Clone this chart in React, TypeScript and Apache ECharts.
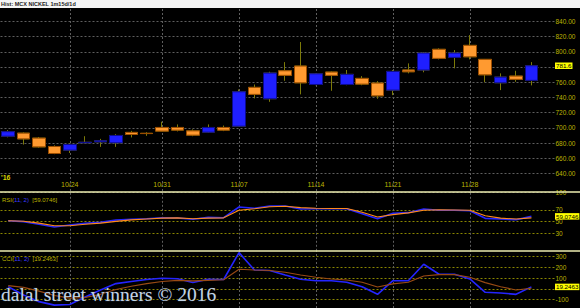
import React, { useEffect, useRef } from 'react';
import * as echarts from 'echarts';

const DATES = [
  '10/18', '10/19', '10/20', '10/21', '10/24', '10/25', '10/26', '10/27', '10/28', '10/30',
  '10/31', '11/01', '11/02', '11/03', '11/04', '11/07', '11/08', '11/09', '11/10', '11/11',
  '11/14', '11/15', '11/16', '11/17', '11/18', '11/21', '11/22', '11/23', '11/24', '11/25',
  '11/28', '11/29', '11/30', '12/01', '12/02',
];
const OPEN = [
  689, 693, 686.5, 675.5, 670.7, 680.3, 681.6, 680.3, 694, 692.8,
  700.5, 700.5, 696, 694.3, 700.5, 702.2, 753.2, 738.2, 775, 781.2,
  757, 773.3, 757, 765, 758.8, 749.6, 776, 776, 803.2, 792.6,
  808.4, 790, 759.2, 768, 762.4,
];
const CLOSE = [
  695, 685.5, 675, 666.3, 678.2, 681, 683, 690, 691.3, 692.5,
  695.7, 697, 690.4, 700.5, 697, 747.4, 744, 772, 769, 759.2,
  771, 769, 770.3, 757.5, 742.1, 774.2, 773.7, 798.3, 791.3, 798.3,
  793.4, 769.7, 766.7, 763.7, 781.6,
];
const LOW = [
  687.5, 678, 674, 665.4, 667, 680, 675, 675, 687.4, 689.5,
  695.5, 695.3, 689, 693.4, 695.7, 701.5, 738.7, 734.2, 761.8, 744,
  756, 748.7, 756, 756, 738.2, 743, 771.6, 773, 790, 778.2,
  790, 760, 749.6, 760.5, 755.8,
];
const HIGH = [
  697, 694, 688, 677, 679.5, 689, 685.5, 691.7, 696, 694.3,
  708, 704.5, 698, 704.5, 703, 750.5, 757, 773.7, 786.4, 812.8,
  772, 774, 776, 768, 761.4, 776, 784.7, 799.6, 804.5, 802.2,
  822, 790.5, 771.6, 775, 786.4,
];
const RSI = [
  51.6, 50, 45.4, 40.8, 44.2, 47.1, 48.8, 52.8, 54, 55,
  56.8, 56.3, 54, 57.4, 56.8, 75.1, 72.9, 76.8, 76.8, 71.7,
  72.2, 72.2, 72.2, 63.6, 55, 64.3, 65.4, 71.7, 69.5, 69.5,
  68.8, 55.7, 54.5, 53.4, 59.0746,
];
const RSI_SIGNAL = [
  51.6, 50.8, 47.5, 43, 43, 45.5, 47.5, 50.5, 53, 54.5,
  56, 56.5, 55, 56, 56.5, 69.5, 72, 75.5, 76.5, 74,
  73, 72.5, 72.5, 66, 58, 62, 65, 69.5, 70.5, 70,
  69.5, 60, 56, 54.5, 56.5,
];
const CCI = [
  21, -56, -118, -150, -145, -75, -10, 50, 70, 88,
  99, 95, 60, 90, 88, 338, 177, 172, 130, 90,
  77, 77, 62, 21, -50, 77, 77, 230, 137, 137,
  93, -31, -37, -50, 19.2463,
];
const CCI_SIGNAL = [
  31, 15, -20, -60, -85, -80, -50, -5, 25, 50,
  70, 80, 75, 80, 85, 183, 177, 172, 155, 130,
  109, 93, 84, 62, 19, 47, 62, 121, 133, 133,
  109, 59, 21, -9, 6,
];
const DATE_LABELS = ['10/24', '10/31', '11/07', '11/14', '11/21', '11/28'];
const PRICE_TICKS = [640, 660, 680, 700, 720, 740, 760, 780, 800, 820, 840];
const RSI_TICKS = [30, 50, 70, 100];
const CCI_TICKS = [-100, 0, 100, 200, 300];

const LABEL = '#bdb300';
const GREY = { color: '#5e5e5e', type: [2, 2], width: 1 };
const OLIVE = { color: '#8a8600', type: [2, 2], width: 1 };
const HIDDEN_LINE = { color: 'rgba(0,0,0,0)', width: 1, type: 'solid' };
const FONT = 'Liberation Sans';

export default function App() {
  const ref = useRef<HTMLDivElement>(null);
  useEffect(() => {
    if (!ref.current) return;
    const chart = echarts.init(ref.current, null, { renderer: 'svg' });
    const n = DATES.length;
    const last = n - 1;
    const candleFull = DATES.map((_, i) => [OPEN[i], CLOSE[i], LOW[i], HIGH[i]]);
    const candleBody = DATES.map((_, i) => [
      OPEN[i], CLOSE[i], Math.min(OPEN[i], CLOSE[i]), Math.max(OPEN[i], CLOSE[i]),
    ]);
    const vLines = DATE_LABELS.map((d) => ({ xAxis: d, lineStyle: GREY, label: { show: false } }));
    const tickLabel = (txt: string, show: boolean) => ({
      show, position: 'end', distance: 1, formatter: txt, color: LABEL,
      fontSize: 6.5, lineHeight: 5.5, fontFamily: FONT,
    });
    const tag = (txt: string) => ({
      show: true, position: 'end', distance: 0.5, formatter: txt, color: '#000',
      backgroundColor: '#ffff00', padding: [0.5, 1, 0, 1], fontSize: 6.2, lineHeight: 6,
      fontFamily: FONT,
    });
    const gridDefs = [
      { left: 0.5, width: 554, top: 8, height: 183 },
      { left: 0.5, width: 554, top: 192.5, height: 58.3 },
      { left: 0.5, width: 554, top: 251, height: 57 },
    ];
    const xAxes = gridDefs.map((_, i) => ({
      type: 'category',
      gridIndex: i,
      data: DATES,
      max: n,
      boundaryGap: true,
      show: i === 0,
      axisLine: { show: false },
      axisTick: { show: false },
      splitLine: { show: false },
      axisLabel: {
        show: i === 0,
        inside: true,
        margin: 3,
        color: LABEL,
        fontSize: 7,
        fontFamily: FONT,
        interval: (_idx: number, v: string) => DATE_LABELS.includes(v),
      },
    }));
    const yRanges = [[617, 857.5], [0, 100], [-177, 353]];
    const yAxes = yRanges.map((r, i) => ({
      type: 'value', gridIndex: i, min: r[0], max: r[1], show: false,
      splitLine: { show: false },
    }));

    chart.setOption({
      animation: false,
      backgroundColor: '#000',
      grid: gridDefs,
      xAxis: xAxes,
      yAxis: yAxes,
      series: [
        {
          type: 'line', xAxisIndex: 0, yAxisIndex: 0, data: CLOSE, silent: true, z: 1,
          symbol: 'none', lineStyle: { opacity: 0 },
          markLine: {
            z: 1, silent: true, symbol: 'none', animation: false,
            data: [
              ...PRICE_TICKS.map((v) => ({
                yAxis: v, lineStyle: GREY,
                label: tickLabel(v.toFixed(2), Math.abs(v - CLOSE[last]) > 8),
              })),
              ...vLines,
            ],
          },
        },
        {
          type: 'candlestick', xAxisIndex: 0, yAxisIndex: 0, data: candleFull, barWidth: 13, z: 2,
          itemStyle: {
            color: 'transparent', color0: 'transparent',
            borderColor: '#7c7a08', borderColor0: '#7c7a08', borderWidth: 1,
          },
        },
        {
          type: 'candlestick', xAxisIndex: 0, yAxisIndex: 0, data: candleBody, barWidth: 13, z: 3,
          itemStyle: {
            color: '#1f1fff', color0: '#ff9a30',
            borderColor: '#0a0a90', borderColor0: '#9c4c00', borderWidth: 1,
          },
          markLine: {
            z: 10, silent: true, symbol: 'none', animation: false,
            data: [{ yAxis: CLOSE[last], lineStyle: HIDDEN_LINE, label: tag(CLOSE[last].toFixed(1)) }],
          },
        },
        {
          type: 'line', xAxisIndex: 1, yAxisIndex: 1, data: RSI, symbol: 'none', silent: true, z: 3,
          lineStyle: { color: '#2424ff', width: 1.6 },
          markLine: {
            z: 1, silent: true, symbol: 'none', animation: false,
            data: [
              ...RSI_TICKS.map((v) => ({
                yAxis: v, lineStyle: v === 100 ? GREY : OLIVE, label: tickLabel(String(v), true),
              })),
              ...vLines,
            ],
          },
        },
        {
          type: 'line', xAxisIndex: 1, yAxisIndex: 1, data: RSI_SIGNAL, symbol: 'none', silent: true, z: 4,
          lineStyle: { color: '#ff8a1c', width: 1.1 },
          markLine: {
            z: 10, silent: true, symbol: 'none', animation: false,
            data: [{ yAxis: RSI[last], lineStyle: HIDDEN_LINE, label: tag(RSI[last].toFixed(4)) }],
          },
        },
        {
          type: 'line', xAxisIndex: 2, yAxisIndex: 2, data: CCI, symbol: 'none', silent: true, z: 3,
          lineStyle: { color: '#2424ff', width: 1.6 },
          markLine: {
            z: 1, silent: true, symbol: 'none', animation: false,
            data: [
              ...CCI_TICKS.map((v) => ({
                yAxis: v, lineStyle: OLIVE,
                label: tickLabel(String(v), Math.abs(v - CCI[last]) > 50),
              })),
              ...vLines,
            ],
          },
        },
        {
          type: 'line', xAxisIndex: 2, yAxisIndex: 2, data: CCI_SIGNAL, symbol: 'none', silent: true, z: 4,
          lineStyle: { color: '#9a4a14', width: 1.1 },
          markLine: {
            z: 10, silent: true, symbol: 'none', animation: false,
            data: [{ yAxis: CCI[last], lineStyle: HIDDEN_LINE, label: tag(CCI[last].toFixed(4)) }],
          },
        },
      ],
      graphic: [
        { type: 'rect', z: 100, shape: { x: 0, y: 0, width: 580, height: 8 }, style: { fill: '#f4f4f4' } },
        {
          type: 'text', z: 101, x: 1, y: 1,
          style: { text: 'Hist: MCX NICKEL 1m15d/1d', fill: '#222', fontSize: 5.5, fontFamily: FONT, fontWeight: 'bold' },
        },
        {
          type: 'text', z: 101, x: 1, y: 174,
          style: { text: "'16", fill: '#d8d000', fontSize: 7, fontFamily: FONT, fontWeight: 'bold' },
        },
        { type: 'line', z: 100, shape: { x1: 0, y1: 192, x2: 580, y2: 192 }, style: { stroke: '#eeeeb0', lineWidth: 1.6 } },
        { type: 'line', z: 100, shape: { x1: 0, y1: 251, x2: 580, y2: 251 }, style: { stroke: '#eeeeb0', lineWidth: 1.6 } },
        {
          type: 'text', z: 101, x: 2, y: 193.5,
          style: {
            text: '{a|RSI(}{b|11, 2)} {a|[' + RSI[last].toFixed(4) + ']}',
            rich: {
              a: { fill: '#bdb300', fontSize: 6, fontFamily: FONT },
              b: { fill: '#3a3aff', fontSize: 6, fontFamily: FONT },
            },
          },
        },
        {
          type: 'text', z: 101, x: 2, y: 252.5,
          style: {
            text: '{a|CCI(}{b|11, 2)} {a|[' + CCI[last].toFixed(4) + ']}',
            rich: {
              a: { fill: '#bdb300', fontSize: 6, fontFamily: FONT },
              b: { fill: '#3a3aff', fontSize: 6, fontFamily: FONT },
            },
          },
        },
        {
          type: 'text', z: 102, x: 1, y: 284,
          style: {
            text: 'dalal street winners \u00a9 2016', fill: '#c4d4e6', stroke: '#2a3440', lineWidth: 0.4,
            fontSize: 19.5, fontFamily: 'Liberation Serif',
          },
        },
      ],
    });
    return () => chart.dispose();
  }, []);
  return (
    <div
      ref={ref}
      style={{ position: 'absolute', left: 0, top: 0, width: 580, height: 308, background: '#000' }}
    />
  );
}
